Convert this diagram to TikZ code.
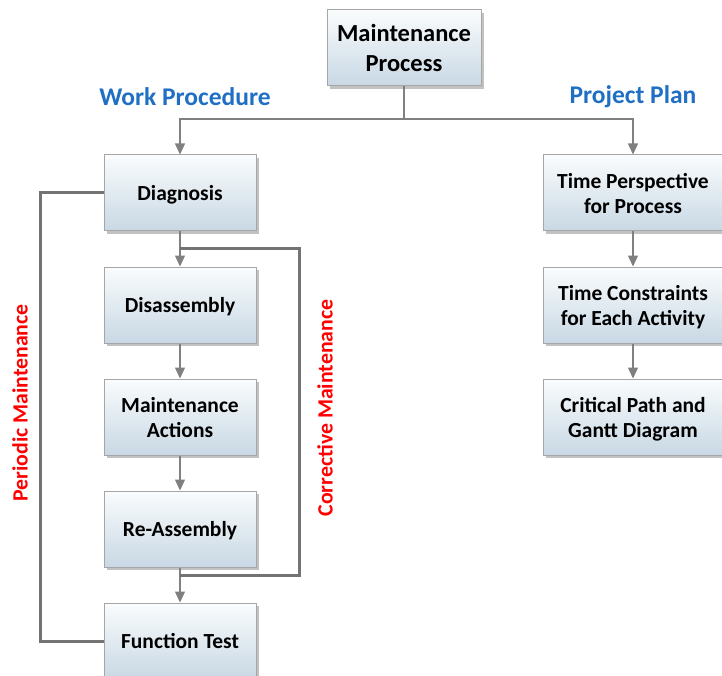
\documentclass[tikz,border=0pt]{standalone}
\usepackage{fontspec}
\setmainfont{Carlito}
\usetikzlibrary{arrows.meta,shadows}
\definecolor{linegray}{HTML}{808080}
\definecolor{boxedge}{HTML}{A6A6A6}
\definecolor{boxtop}{HTML}{FAFCFD}
\definecolor{boxbottom}{HTML}{C8D8E4}
\definecolor{headblue}{HTML}{1F70C4}
\tikzset{
  procbox/.style={draw=boxedge, line width=1pt, top color=boxtop, bottom color=boxbottom,
    minimum width=152pt, minimum height=76pt, align=center, inner sep=2pt, text depth=0pt,
    font=\bfseries\fontsize{21.5}{25}\selectfont,
    drop shadow={shadow xshift=3pt, shadow yshift=-3pt, opacity=0.4, fill=black!60}},
  planbox/.style={procbox, minimum width=180pt},
  flow/.style={draw=linegray, line width=1.4pt, -{Triangle[width=10pt,length=11pt]}},
  trunk/.style={draw=linegray, line width=1.4pt},
  loopline/.style={draw=linegray!90!black, line width=3pt},
  heading/.style={text=headblue, font=\bfseries\fontsize{25.5}{30}\selectfont},
  looplabel/.style={text=red, rotate=90, font=\bfseries\fontsize{21.8}{25}\selectfont}
}
\begin{document}
\begin{tikzpicture}[x=1pt,y=-1pt]
  \useasboundingbox (0,0) rectangle (722,676);

  % top node and headings
  \node[procbox, minimum width=154pt, font=\bfseries\fontsize{24.5}{30}\selectfont] (mp) at (404,48) {Maintenance\\Process};
  \node[heading] (wp) at (185,97) {Work Procedure};
  \node[heading] (pp) at (633,97) {Project Plan};

  % work procedure column
  \node[procbox] (diag)  at (180,193) {Diagnosis};
  \node[procbox] (disas) at (180,305) {Disassembly};
  \node[procbox] (mact)  at (180,417) {Maintenance\\Actions};
  \node[procbox] (reas)  at (180,529) {Re-Assembly};
  \node[procbox] (ftest) at (180,641) {Function Test};

  % project plan column
  \node[planbox] (tp) at (633,193) {Time Perspective\\for Process};
  \node[planbox] (tc) at (633,305) {Time Constraints\\for Each Activity};
  \node[planbox] (cp) at (633,417) {Critical Path and\\Gantt Diagram};

  % branching from the top node
  \coordinate (split) at (404,119);
  \draw[trunk] (mp.south) -- (split);
  \draw[flow] (split) -| (diag.north);
  \draw[flow] (split) -| (tp.north);

  % sequential arrows
  \draw[flow] (diag) -- (disas);
  \draw[flow] (disas) -- (mact);
  \draw[flow] (mact) -- (reas);
  \draw[flow] (reas) -- (ftest);
  \draw[flow] (tp) -- (tc);
  \draw[flow] (tc) -- (cp);

  % corrective maintenance loop
  \coordinate (cA) at (180,248);
  \coordinate (cB) at (299,248);
  \coordinate (cC) at (299,575);
  \coordinate (cD) at (180,575);
  \draw[loopline] (cA) -- (cB) -- (cC) -- (cD);

  % periodic maintenance loop
  \coordinate (pA) at (40,193);
  \draw[loopline] (diag.west) -- (pA) |- (ftest.west);

  % loop labels
  \node[looplabel] (plab) at (20,403) {Periodic Maintenance};
  \node[looplabel] (clab) at (325,408) {Corrective Maintenance};
\end{tikzpicture}
\end{document}
